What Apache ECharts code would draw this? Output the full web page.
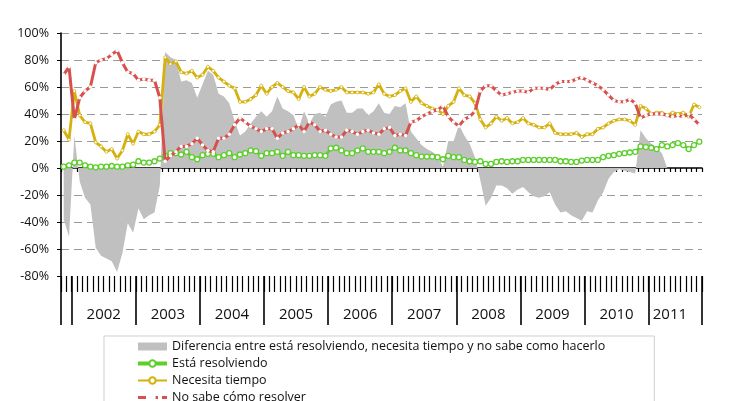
<!DOCTYPE html>
<html><head><meta charset="utf-8">
<script src="https://cdn.jsdelivr.net/npm/echarts@6/dist/echarts.min.js"></script>
<style>html,body{margin:0;padding:0;background:#fff}#c{width:743px;height:401px}</style>
</head><body><div id="c"></div>
<script>
// ---- categories (months, Nov 2001 .. Oct 2011) ----
const yearNames     = ['2001','2002','2003','2004','2005','2006','2007','2008','2009','2010','2011'];
const yearLabels    = ['',    '2002','2003','2004','2005','2006','2007','2008','2009','2010','2011'];
const firstMonth    = [11, 1, 1, 1, 1, 1, 1, 1, 1, 1, 1];
const monthsInYear  = [2, 12, 12, 12, 12, 12, 12, 12, 12, 12, 10];

// ---- series values (%) ----
const diferencia = [
  -38,-51,24,-10,-22,-27,-59,-65,-67,-69,
  -77,-63,-41,-48,-30,-38,-35,-33,-13,86,
  82,80,64,65,63,52,62,72,69,55,
  53,48,35,24,27,33,38,42,38,42,
  53,44,42,39,29,42,33,40,41,38,
  47,49,50,41,41,44,44,39,42,48,
  41,40,46,45,48,27,22,17,14,12,
  9,1,20,20,32,24,18,8,-9,-28,
  -22,-13,-13,-15,-19,-16,-14,-18,-21,-22,
  -21,-18,-27,-33,-32,-35,-37,-39,-32,-33,
  -24,-18,-8,-3,-1,-2,-3,-4,28,22,
  18,15,11,0,null,null,null,null,null,null
];
const resolviendo = [
  1,2,4,4,2,1,0.5,1,1,1.5,
  1,1,2,2.5,5,4,4,5,7,9,
  11,11,10,12,8,6.5,9.5,10.5,10.5,8,
  9.5,11,8,10,11,13,12.5,9,11,11,
  12,9,12,9.5,9.5,9,9,9.5,9.5,9,
  14.5,15,13,11,11,13,14.5,12,12,12,
  11,12,15,13,13,11,9.5,8.5,8.5,8.5,
  8,6.5,9,8,8,6,5,4.5,5,3,
  3,4.5,5,4.5,5,5,6,6,6,6,
  6,6,6,5,5,4.5,4.5,5.5,6,6,
  6,8,9,9.5,10.5,11,11.5,12,16,15.5,
  15,14,17,16,17,18.5,17,14,17,19.5
];
const necesita = [
  28,21,57,39,34,33,19,16,12,14,
  7,13,25,18,27,25,25,27,32,82,
  77,79,71,70,72,67,69,75,72,67,
  64,61,59,49,49,51,54,61,55,60,
  63,60,57,56,51,60,53,55,60,58,
  57,58,60,56,56,56,56,55,56,62,
  55,53,54,57,59,49,53,48,46,44,
  43,40,46,49,59,54,53,48,36,30,
  33,38,35,37,33,34,37,33,32,30,
  30,33,26,25,25,25,26,23,25,25,
  29,30,33,35,36,36,35,32,46,44,
  40,41,41,39,41,40,41,38,47,45
];
const noSabe = [
  69,75,36,52,57,60,78,80,81,84,
  87,78,71,70,65,66,65,65,52,5,
  9,12,16,16,18,22,17,13,12,22,
  22,25,32,37,34,31,29,27,29,29,
  22,26,27,29,32,27,34,32,27,28,
  25,23,23,28,27,25,27,28,26,25,
  29,30,24,25,24,34,35,38,40,42,
  43,46,38,34,31,36,38,42,57,61,
  61,57,54,55,56,57,57,56,59,59,
  59,58,62,64,64,64,66,67,65,63,
  61,58,54,50,49,49,51,48,37,39,
  40,40,40,39,38,39,38,40,36,32
];
const seriesNames = [
  'Diferencia entre está resolviendo, necesita tiempo y no sabe como hacerlo',
  'Está resolviendo',
  'Necesita tiempo',
  'No sabe cómo resolver'
];
const yTicks = {min: -80, max: 100, step: 20};

// ---- build category list, year ticks and year label positions ----
const categories = [];
const yearTickIdx = new Set();
const yearLabelAt = {};
let idx = 0;
yearNames.forEach((y, k) => {
  const first = idx, last = idx + monthsInYear[k] - 1;
  yearTickIdx.add(first);
  if (yearLabels[k]) yearLabelAt[Math.min(first + 5, last - 6)] = yearLabels[k];
  for (let m = 0; m < monthsInYear[k]; m++) {
    const mm = firstMonth[k] + m;
    categories.push(y + '-' + (mm < 10 ? '0' : '') + mm);
  }
  idx += monthsInYear[k];
});

const FONT = '"Open Sans", "DejaVu Sans", sans-serif';
const GREEN = '#5ccf2b', YELLOW = '#d4b10c', RED = '#d6514d', GRAY = '#c0c0c0';
const band = 641 / categories.length;

const chart = echarts.init(document.getElementById('c'), null, {renderer: 'canvas'});
chart.setOption({
  animation: false,
  textStyle: {fontFamily: FONT},
  grid: {left: 61, right: 41, top: 33, bottom: 125, containLabel: false},
  legend: {
    orient: 'vertical', left: 104, top: 336, height: 120,
    padding: [4, 49, 4, 32],
    itemGap: 4, itemWidth: 29, itemHeight: 8,
    borderColor: '#cfcfcf', borderWidth: 1,
    textStyle: {fontSize: 12.5, color: '#111', lineHeight: 13, fontFamily: FONT},
    data: [
      {name: seriesNames[0], icon: 'rect'},
      {name: seriesNames[1], lineStyle: {width: 4}},
      {name: seriesNames[2], lineStyle: {width: 2}},
      {name: seriesNames[3], lineStyle: {width: 3, type: [8, 4]}}
    ]
  },
  xAxis: [
    {
      type: 'category', data: categories, boundaryGap: true,
      axisLine: {show: true, onZero: true, lineStyle: {color: '#000', width: 1.6}},
      axisTick: {show: true, interval: 0, length: 4, lineStyle: {color: '#000', width: 1.2}},
      axisLabel: {show: false}, splitLine: {show: false}
    },
    {
      type: 'category', data: categories, boundaryGap: true, position: 'bottom',
      axisLine: {show: false, onZero: false},
      axisTick: {show: true, interval: 0, length: 16, lineStyle: {color: '#000', width: 1.2}},
      axisLabel: {show: false}, splitLine: {show: false}
    },
    {
      type: 'category', data: categories, boundaryGap: true, position: 'bottom',
      axisLine: {show: false, onZero: false},
      axisTick: {show: true, interval: (i) => yearTickIdx.has(i), length: 49, lineStyle: {color: '#000', width: 1.6}},
      axisLabel: {
        show: true, interval: (i) => yearLabelAt[i] !== undefined,
        formatter: (v, i) => yearLabelAt[i] || '',
        margin: 31, fontSize: 15, color: '#111', fontFamily: FONT,
        padding: [0, 0, 0, band]
      },
      splitLine: {show: false}
    }
  ],
  yAxis: {
    type: 'value', min: yTicks.min, max: yTicks.max, interval: yTicks.step,
    axisLine: {show: true, lineStyle: {color: '#000', width: 1.6}},
    axisTick: {show: true, length: 4, lineStyle: {color: '#000', width: 1}},
    axisLabel: {formatter: '{value}%', margin: 12, fontSize: 12.5, color: '#111', fontFamily: FONT},
    splitLine: {show: true, showMinLine: false,
      lineStyle: {type: [8, 5], width: 1,
        color: ['#9a9a9a', '#9a9a9a', '#9a9a9a', 'rgba(0,0,0,0)', '#9a9a9a', '#9a9a9a', '#9a9a9a', '#9a9a9a', '#9a9a9a']}}
  },
  series: [
    {
      name: seriesNames[0], type: 'line', data: diferencia, color: GRAY,
      symbol: 'none', lineStyle: {width: 0, color: GRAY},
      areaStyle: {color: GRAY, opacity: 1}, z: 1
    },
    {
      name: seriesNames[1], type: 'line', data: resolviendo,
      lineStyle: {width: 2.5, color: GREEN},
      symbol: 'circle', symbolSize: 5, showAllSymbol: true,
      itemStyle: {color: '#fff', borderColor: GREEN, borderWidth: 1.3}, z: 3
    },
    {
      name: seriesNames[2], type: 'line', data: necesita,
      lineStyle: {width: 2.8, color: YELLOW},
      symbol: 'circle', symbolSize: 3, showAllSymbol: true,
      itemStyle: {color: '#fff', borderColor: YELLOW, borderWidth: 0.8}, z: 4
    },
    {
      name: seriesNames[3], type: 'line', data: noSabe,
      lineStyle: {width: 3, color: RED},
      symbol: 'circle', symbolSize: 3.5, showAllSymbol: true,
      itemStyle: {color: '#fff', borderColor: RED, borderWidth: 0}, z: 5
    }
  ]
});
</script></body></html>
